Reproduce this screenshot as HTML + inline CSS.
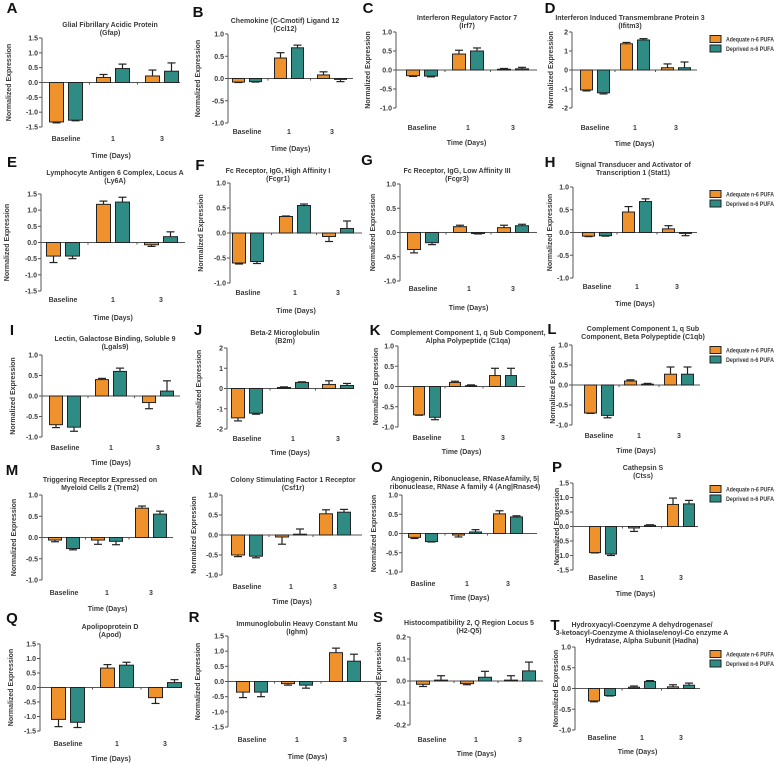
<!DOCTYPE html>
<html><head><meta charset="utf-8"><style>
html,body{margin:0;padding:0;background:#fff;}
svg{display:block;font-family:"Liberation Sans",sans-serif;}
.t{font-size:7px;font-weight:bold;fill:#3a3a3a;}
.k{font-size:7px;font-weight:bold;fill:#3a3a3a;}
.lg{font-size:6.5px;font-weight:bold;fill:#3a3a3a;}
.lt{font-size:15px;font-weight:bold;fill:#111;}
</style></head><body>
<svg id="fig" width="778" height="764" viewBox="0 0 778 764"></svg>
<script>
const categories = ["Baseline","1","3"];
const seriesNames = ["Adequate n-6 PUFA","Deprived n-6 PUFA"];
const panelLetters = ["A","B","C","D","E","F","G","H","I","J","K","L","M","N","O","P","Q","R","S","T"];
const adequateMeans = [
[-1.33,0.17,0.22],[-0.08,0.46,0.08],[-0.15,0.42,0.02],[-1.05,1.38,0.12],
[-0.42,1.18,-0.07],[-0.6,0.33,-0.07],[-0.35,0.12,0.1],[-0.08,0.45,0.08],
[-0.7,0.4,-0.16],[-1.45,0.05,0.2],[-0.7,0.1,0.27],[-0.7,0.1,0.27],
[-0.06,-0.06,0.69],[-0.5,-0.05,0.53],[-0.1,-0.04,0.51],[-0.9,-0.05,0.76],
[-1.1,0.67,-0.35],[-0.35,-0.07,0.95],[-0.015,-0.012,0.004],[-0.3,0.03,0.04]];
const adequateErrors = [
[0.03,0.1,0.2],[0.01,0.12,0.07],[0.02,0.1,0.02],[0.05,0.07,0.2],
[0.2,0.1,0.05],[0.02,0.01,0.1],[0.07,0.03,0.05],[0.01,0.12,0.07],
[0.07,0.03,0.15],[0.15,0.03,0.18],[0.01,0.03,0.18],[0.01,0.03,0.18],
[0.04,0.1,0.05],[0.04,0.18,0.1],[0.03,0.05,0.08],[0.01,0.12,0.22],
[0.25,0.12,0.2],[0.18,0.05,0.15],[0.01,0.005,0.02],[0.02,0.03,0.05]];
const deprivedMeans = [
[-1.27,0.47,0.38],[-0.07,0.69,-0.02],[-0.16,0.5,0.03],[-1.2,1.58,0.12],
[-0.42,1.25,0.18],[-0.57,0.55,0.09],[-0.21,-0.02,0.14],[-0.07,0.68,-0.02],
[-0.76,0.6,0.12],[-1.22,0.3,0.15],[-0.76,0.02,0.27],[-0.76,0.02,0.27],
[-0.26,-0.09,0.55],[-0.53,0.02,0.57],[-0.21,0.04,0.43],[-0.95,0.04,0.78],
[-1.2,0.77,0.17],[-0.35,-0.12,0.67],[0.004,0.017,0.046],[-0.17,0.17,0.08]];
const deprivedErrors = [
[0.02,0.15,0.28],[0.01,0.06,0.05],[0.02,0.08,0.04],[0.06,0.07,0.3],
[0.08,0.15,0.15],[0.04,0.03,0.15],[0.04,0.01,0.03],[0.01,0.06,0.05],
[0.1,0.08,0.25],[0.05,0.03,0.1],[0.06,0.02,0.18],[0.06,0.02,0.18],
[0.03,0.08,0.07],[0.04,0.13,0.07],[0.01,0.06,0.03],[0.05,0.02,0.12],
[0.18,0.1,0.1],[0.15,0.1,0.23],[0.02,0.027,0.04],[0.01,0.02,0.05]];
const ticks1 = ["1.0","0.5","0.0","-0.5","-1.0"];
const ticks15 = ["1.5","1.0","0.5","0.0","-0.5","-1.0","-1.5"];
const ticks2 = ["2","1","0","-1","-2"];
const ticks02 = ["0.2","0.1","0.0","-0.1","-0.2"];
const panelTicks = [ticks15,ticks1,ticks1,ticks2,ticks15,ticks1,ticks1,ticks1,ticks1,ticks2,ticks1,ticks1,ticks1,ticks1,ticks1,ticks15,ticks15,ticks15,ticks02,ticks1];
const titles = [
["Glial Fibrillary Acidic Protein","(Gfap)"],["Chemokine (C-Cmotif) Ligand 12","(Ccl12)"],
["Interferon Regulatory Factor 7","(Irf7)"],["Interferon Induced Transmembrane Protein 3","(Ifitm3)"],
["Lymphocyte Antigen 6 Complex, Locus A","(Ly6A)"],["Fc Receptor, IgG, High Affinity I","(Fcgr1)"],
["Fc Receptor, IgG, Low Affinity III","(Fcgr3)"],["Signal Transducer and Activator of","Transcription 1 (Stat1)"],
["Lectin, Galactose Binding, Soluble 9","(Lgals9)"],["Beta-2 Microglobulin","(B2m)"],
["Complement Component 1, q Sub Component,","Alpha Polypeptide (C1qa)"],["Complement Component 1, q Sub","Component, Beta Polypeptide (C1qb)"],
["Triggering Receptor Expressed on","Myeloid Cells 2 (Trem2)"],["Colony Stimulating Factor 1 Receptor","(Csf1r)"],
["Angiogenin, Ribonuclease, RNaseAfamily, 5|","ribonuclease, RNase A family 4 (Ang|Rnase4)"],["Cathepsin S","(Ctss)"],
["Apolipoprotein D","(Apod)"],["Immunoglobulin Heavy Constant Mu","(Ighm)"],
["Histocompatibility 2, Q Region Locus 5","(H2-Q5)"],["Hydroxyacyl-Coenzyme A dehydrogenase/","3-ketoacyl-Coenzyme A thiolase/enoyl-Co enzyme A","Hydratase, Alpha Subunit (Hadha)"]];
const firstCatLabel = ["Baseline","Baseline","Baseline","Baseline","Baseline","Basline","Baseline","Baseline","Baseline","Baseline","Baseline","Baseline","Baseline","Baseline","Basline","Baseline","Baseline","Baseline","Baseline","Baseline"];

// layout (pixels): axisX, yTop, yBot, xEnd, c0,c1,c2, tickLabelY, xlabelY, titleCx, titleY, letterX, letterY, ylabelX, legendY
const layout = [
[42,38,127,180,66,113,162,138,155,110,24,12,8,8,0],
[228,34,123,353,247,289,332,131,148,285,20,198,12,197,0],
[396,32,108,537,422,468,513,127,142,467,17,368,8,367,0],
[572,32,108,697,595,635,676,127,143,630,17,550,8,550,39],
[41,194,291,185,63,113,161,299,317,115,172,12,162,6,0],
[230,183,283,362,248,295,338,292,310,278,170,200,165,200,0],
[400,184,281,537,423,469,513,288,307,457,170,367,160,372,0],
[573,187,278,697,597,637,677,286,303,633,164,550,162,549,194],
[42,355,437,180,65,111,158,447,462,115,338,12,330,12,0],
[227,348,429,353,247,293,338,438,452,285,332,198,330,198,0],
[398,346,427,525,427,463,503,437,451,468,332,375,330,375,0],
[572,345,425,700,599,639,679,435,450,643,328,552,329,552,350],
[42,495,580,173,64,107,151,592,608,100,479,12,470,13,0],
[222,495,575,362,247,291,335,586,601,293,479,197,470,193,0],
[402,495,572,537,423,467,508,583,597,465,478,377,467,373,0],
[573,483,570,698,603,642,681,577,593,643,467,557,467,556,489],
[40,644,731,182,68,117,165,743,758,110,626,12,618,10,0],
[228,636,727,387,252,297,345,739,756,297,623,194,617,197,0],
[410,637,725,543,432,476,520,739,753,469,622,378,617,378,0],
[575,647,730,700,602,642,681,737,751,642,624,555,625,555,654]];

const NS = "http://www.w3.org/2000/svg";
const svg = document.getElementById("fig");
function mk(tag, attrs, parent) {
  const e = document.createElementNS(NS, tag);
  for (const k in attrs) e.setAttribute(k, attrs[k]);
  (parent || svg).appendChild(e);
  return e;
}
const ORANGE = "#f0922c", TEAL = "#2f8c85";

for (let p = 0; p < 20; p++) {
  const L = layout[p];
  const [ax, yTop, yBot, xEnd, c0, c1, c2, tlY, xlY, tcx, tY, lx, ly, ylx, legY] = L;
  const centers = [c0, c1, c2];
  const tk = panelTicks[p];
  const vmax = parseFloat(tk[0]), vmin = parseFloat(tk[tk.length - 1]);
  const yScale = v => yTop + (vmax - v) / (vmax - vmin) * (yBot - yTop);
  const g = mk("g", {});
  
  

  const letter = mk("text", {x: lx, y: ly + 5, "text-anchor": "middle", class: "lt"}, g);
  letter.textContent = panelLetters[p];
  
  

  const tl = titles[p];
  tl.forEach((s, i) => {
    const t = mk("text", {x: tcx, y: tY + 3 + i * 8, "text-anchor": "middle", class: "t"}, g);
    t.textContent = s;
    
    
  });

  const yax = mk("line", {x1: ax, y1: yTop, x2: ax, y2: yBot, stroke: "#555", "stroke-width": 1}, g);
  
  
  tk.forEach(s => {
    const v = parseFloat(s), y = yScale(v);
    mk("line", {x1: ax - 3, y1: y, x2: ax, y2: y, stroke: "#555", "stroke-width": 1}, g);
    const t = mk("text", {x: ax - 4, y: y + 2.5, "text-anchor": "end", class: "k"}, g);
    t.textContent = s;
    
    
  });
  const y0 = yScale(0);
  const xax = mk("line", {x1: ax, y1: y0, x2: xEnd, y2: y0, stroke: "#555", "stroke-width": 1}, g);
  
  
  [(c0 + c1) / 2, (c1 + c2) / 2].forEach(x => mk("line", {x1: x, y1: y0, x2: x, y2: y0 + 2, stroke: "#555"}, g));

  const yl = mk("text", {x: 0, y: 0, "text-anchor": "middle", class: "k", transform: "translate(" + (ylx + 3) + "," + ((yTop + yBot) / 2) + ") rotate(-90)"}, g);
  yl.textContent = "Normalized Expression";
  
  

  categories.forEach((c, i) => {
    const t = mk("text", {x: centers[i], y: tlY + 3, "text-anchor": "middle", class: "k"}, g);
    t.textContent = i === 0 ? firstCatLabel[p] : c;
    
    
  });
  const xl = mk("text", {x: (ax + xEnd) / 2, y: xlY + 3, "text-anchor": "middle", class: "k"}, g);
  xl.textContent = "Time (Days)";
  
  

  const spacing = (c2 - c0) / 2;
  const bw = Math.round(spacing * 0.29);
  const gap = 2.5;
  const series = [[adequateMeans[p], adequateErrors[p], ORANGE, -1], [deprivedMeans[p], deprivedErrors[p], TEAL, 1]];
  series.forEach((s, si) => {
    categories.forEach((c, i) => {
      const m = s[0][i], e = s[1][i];
      const x = s[3] < 0 ? centers[i] - gap - bw : centers[i] + gap;
      const ym = yScale(m);
      const ye = yScale(m + (m >= 0 ? e : -e));
      const xm = x + bw / 2;
      const el = mk("line", {x1: xm, y1: ym, x2: xm, y2: ye, stroke: "#222", "stroke-width": 1.2}, g);
      
      
      mk("line", {x1: xm - 4, y1: ye, x2: xm + 4, y2: ye, stroke: "#222", "stroke-width": 1.2}, g);
      const r = mk("rect", {x: x, y: Math.min(ym, y0), width: bw, height: Math.max(Math.abs(ym - y0), 0.8), fill: s[2], stroke: "#222", "stroke-width": 1}, g);
      
      
    });
  });

  if (legY) {
    [ORANGE, TEAL].forEach((col, i) => {
      const lg = mk("g", {}, g);
      
      
      mk("rect", {x: 710, y: legY + i * 9.5 - 3.5, width: 11, height: 7, fill: col, stroke: "#222", "stroke-width": 1}, lg);
      const t = mk("text", {x: 726, y: legY + i * 9.5 + 2.3, class: "lg", textLength: 48, lengthAdjust: "spacingAndGlyphs"}, lg);
      t.textContent = seriesNames[i];
    });
  }
}
</script>
</body></html>
